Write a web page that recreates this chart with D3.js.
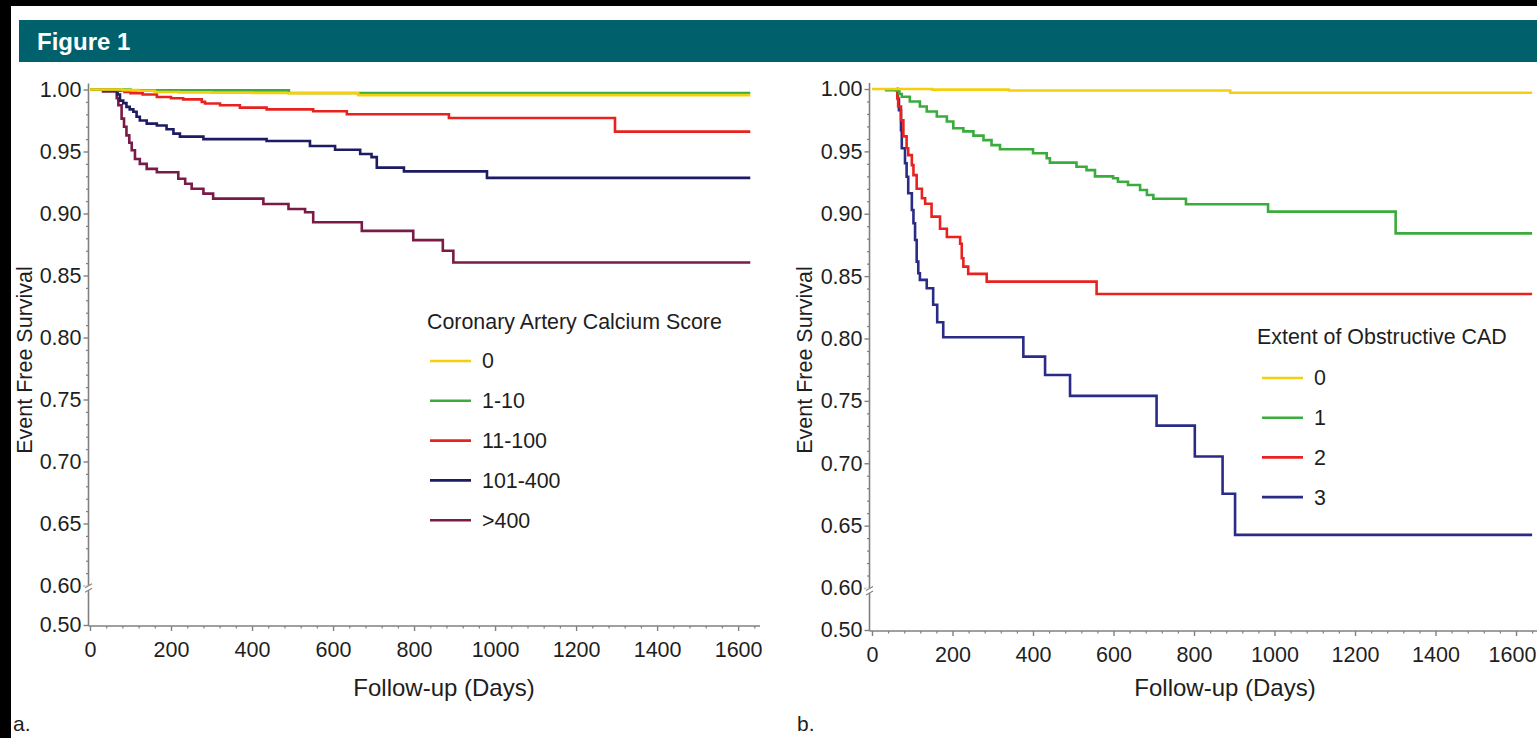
<!DOCTYPE html>
<html><head><meta charset="utf-8">
<script src="https://cdn.jsdelivr.net/npm/d3@7"></script>
<style>
body{margin:0;background:#000;}
svg{display:block;font-family:"Liberation Sans",Arial,Helvetica,sans-serif;}
</style></head>
<body><svg id="c" width="1537" height="738"></svg>
<script>
// ---------------- DATA ----------------
const xTicks = [0, 200, 400, 600, 800, 1000, 1200, 1400, 1600];
const yTicks = [0.50, 0.60, 0.65, 0.70, 0.75, 0.80, 0.85, 0.90, 0.95, 1.00];
const yTickLabels = ["0.50", "0.60", "0.65", "0.70", "0.75", "0.80", "0.85", "0.90", "0.95", "1.00"];

// Panel a: Coronary Artery Calcium Score
const cacLabels = ["0", "1-10", "11-100", "101-400", ">400"];
const cac0 = [[0,1.0],[60,1.0],[80,0.9995],[120,0.999],[160,0.998],[220,0.9977],[300,0.9974],[400,0.9972],[490,0.997],[662,0.9955]];
const cac1_10 = [[0,1.0],[100,0.9993],[491,0.9972]];
const cac11_100 = [[0,1.0],[62,1.0],[70,0.999],[85,0.998],[100,0.997],[130,0.996],[165,0.994],[200,0.993],[230,0.992],[276,0.990],[284,0.9887],[321,0.9873],[370,0.9854],[436,0.984],[551,0.9824],[634,0.980],[886,0.977],[1296,0.966]];
const cac101_400 = [[0,1.0],[62,1.0],[68,0.996],[74,0.991],[82,0.989],[90,0.986],[98,0.984],[107,0.982],[115,0.978],[123,0.975],[140,0.9725],[165,0.971],[189,0.968],[206,0.9644],[222,0.962],[280,0.960],[436,0.9585],[543,0.9544],[605,0.9514],[667,0.948],[695,0.9455],[708,0.937],[775,0.934],[980,0.9287]];
const cacOver400 = [[29,0.9985],[62,0.9985],[66,0.993],[70,0.9873],[78,0.9765],[84,0.970],[90,0.963],[97,0.957],[103,0.951],[111,0.944],[123,0.940],[140,0.936],[165,0.9333],[218,0.928],[235,0.924],[251,0.920],[280,0.916],[304,0.912],[428,0.9077],[490,0.9036],[531,0.901],[551,0.893],[671,0.886],[798,0.8785],[871,0.870],[897,0.8605]];
const cacEndDay = 1630;

// Panel b: Extent of Obstructive CAD
const cadLabels = ["0", "1", "2", "3"];
const cad0 = [[0,1.0],[150,0.9995],[340,0.9988],[890,0.997]];
const cad1 = [[32,0.999],[61,0.9986],[68,0.996],[74,0.9938],[94,0.990],[119,0.986],[136,0.982],[161,0.978],[186,0.974],[202,0.9685],[227,0.966],[252,0.9626],[277,0.959],[297,0.955],[318,0.9517],[400,0.9485],[434,0.9445],[442,0.941],[508,0.9377],[533,0.935],[554,0.930],[599,0.9284],[611,0.9257],[636,0.923],[666,0.919],[683,0.915],[699,0.912],[780,0.9076],[984,0.9017],[1301,0.8843]];
const cad2 = [[61,1.0],[63,0.993],[65,0.986],[72,0.975],[78,0.962],[86,0.9525],[90,0.947],[99,0.939],[103,0.931],[111,0.920],[124,0.9124],[132,0.908],[148,0.8977],[169,0.888],[186,0.8814],[219,0.876],[223,0.8643],[227,0.8576],[239,0.8518],[285,0.8456],[558,0.8357]];
const cad3 = [[61,1.0],[64,0.992],[67,0.983],[72,0.967],[74,0.9525],[82,0.9405],[86,0.9297],[90,0.9164],[99,0.903],[103,0.8924],[107,0.879],[111,0.8616],[115,0.8523],[119,0.847],[136,0.8403],[152,0.827],[162,0.813],[177,0.801],[376,0.7855],[430,0.7708],[492,0.754],[707,0.7302],[802,0.7054],[871,0.6755],[902,0.6426]];
const cadEndDay = 1640;

// ---------------- STYLE ----------------
const colYellow = "#f6cf0c", colGreen = "#3aac3c", colRed = "#e8231f",
      colNavy = "#1d1b62", colMaroon = "#7a1a46", colBlue = "#2a2b86";
const axisCol = "#808080", textCol = "#1e1e1e";

const svg = d3.select("#c");
// white card
svg.append("rect").attr("x", 11).attr("y", 6).attr("width", 1537 - 11).attr("height", 738 - 6).attr("fill", "#fff");
// header
svg.append("rect").attr("x", 19).attr("y", 20).attr("width", 1537 - 19).attr("height", 42).attr("fill", "#00606c");
svg.append("text").attr("x", 37).attr("y", 49.5).attr("fill", "#fff")
  .attr("font-size", 24).attr("font-weight", "bold").text("Figure 1");

function panel(cfg) {
  const g = svg.append("g");
  const x = d3.scaleLinear().domain(cfg.xDomain).range(cfg.xRange);
  const y = d3.scaleLinear().domain([0.5, 0.6, 1.0]).range(cfg.yRange);
  const x0 = cfg.xRange[0], yAxisY = cfg.axisY;

  // minor ticks
  const minorY = d3.range(61, 100).map(v => v / 100).filter(v => Math.round(v * 100) % 5 !== 0);
  g.append("g").attr("transform", `translate(${x0},0)`)
    .call(d3.axisLeft(y).tickValues(minorY).tickSize(2.5).tickFormat(""))
    .call(s => { s.select(".domain").remove(); s.selectAll("line").attr("stroke", axisCol).attr("stroke-width", 1.2); });
  const minorX = d3.range(40, 1680, 40).filter(v => v % 200 !== 0 && x(v) <= cfg.xRange[1]);
  g.append("g").attr("transform", `translate(0,${yAxisY})`)
    .call(d3.axisBottom(x).tickValues(minorX).tickSize(2.5).tickFormat(""))
    .call(s => { s.select(".domain").remove(); s.selectAll("line").attr("stroke", axisCol).attr("stroke-width", 1.2); });

  // major y axis
  g.append("g").attr("transform", `translate(${x0},0)`)
    .call(d3.axisLeft(y).tickValues(yTicks).tickSize(5).tickPadding(2)
      .tickFormat((d, i) => yTickLabels[i]))
    .call(s => {
      s.select(".domain").remove();
      s.selectAll("line").attr("stroke", axisCol).attr("stroke-width", 1.4);
      s.selectAll("text").attr("font-size", 21.5).attr("fill", textCol).attr("font-family", null);
    });
  // major x axis
  g.append("g").attr("transform", `translate(0,${yAxisY})`)
    .call(d3.axisBottom(x).tickValues(xTicks).tickSize(5).tickPadding(11).tickFormat(d3.format("d")))
    .call(s => {
      s.select(".domain").remove();
      s.selectAll("line").attr("stroke", axisCol).attr("stroke-width", 1.4);
      s.selectAll("text").attr("font-size", 21.5).attr("fill", textCol).attr("font-family", null)
        .attr("dx", d => (x(d) + 25 > 1537 ? 1537 - (x(d) + 25) : 0));
    });

  // axis lines
  g.append("line").attr("x1", x0).attr("x2", x0).attr("y1", y(1.0) - 6).attr("y2", yAxisY)
    .attr("stroke", axisCol).attr("stroke-width", 1.6);
  g.append("line").attr("x1", x0).attr("x2", cfg.xRange[1]).attr("y1", yAxisY).attr("y2", yAxisY)
    .attr("stroke", axisCol).attr("stroke-width", 1.6);
  // axis break
  const by = y(0.593);
  g.append("rect").attr("x", x0 - 4).attr("y", by - 3).attr("width", 8).attr("height", 5).attr("fill", "#fff");
  [-2.5, 2].forEach(o => g.append("line").attr("x1", x0 - 3.5).attr("x2", x0 + 3.5)
    .attr("y1", by + o + 2).attr("y2", by + o - 2).attr("stroke", axisCol).attr("stroke-width", 1.1));

  // curves
  const line = d3.line().x(d => x(d[0])).y(d => y(d[1])).curve(d3.curveStepAfter);
  cfg.series.forEach(s => {
    const pts = s.data.concat([[cfg.endDay, s.data[s.data.length - 1][1]]]);
    g.append("path").attr("d", line(pts)).attr("fill", "none")
      .attr("stroke", s.color).attr("stroke-width", 2.6);
  });

  // axis titles
  g.append("text").attr("x", cfg.xTitleX).attr("y", cfg.xTitleY).attr("text-anchor", "middle")
    .attr("font-size", 24).attr("fill", textCol).text("Follow-up (Days)");
  g.append("text").attr("transform", `translate(${cfg.yTitleX},${cfg.yTitleY}) rotate(-90)`)
    .attr("text-anchor", "middle").attr("font-size", 21.5).attr("fill", textCol).text("Event Free Survival");

  // legend
  const lg = g.append("g");
  lg.append("text").attr("x", cfg.legend.x).attr("y", cfg.legend.titleY).attr("dy", "0.35em")
    .attr("font-size", 21.4).attr("fill", textCol).text(cfg.legend.title);
  cfg.legend.items.forEach((it, i) => {
    const yy = cfg.legend.firstY + i * cfg.legend.step;
    lg.append("line").attr("x1", cfg.legend.lineX).attr("x2", cfg.legend.lineX + 41)
      .attr("y1", yy).attr("y2", yy).attr("stroke", it.color).attr("stroke-width", 2.6);
    lg.append("text").attr("x", cfg.legend.textX).attr("y", yy).attr("dy", "0.35em")
      .attr("font-size", 21.4).attr("fill", textCol).text(it.label);
  });

  // panel letter
  g.append("text").attr("x", cfg.letterX).attr("y", 731).attr("font-size", 21)
    .attr("fill", textCol).text(cfg.letter);
}

const cacColors = [colYellow, colGreen, colRed, colNavy, colMaroon];
const cacData = [cac0, cac1_10, cac11_100, cac101_400, cacOver400];
const cadColors = [colYellow, colGreen, colRed, colBlue];
const cadData = [cad0, cad1, cad2, cad3];

panel({
  xDomain: [-3.7, 1654], xRange: [88.5, 760],
  yRange: [625, 585.5, 89.5], axisY: 626,
  endDay: cacEndDay,
  series: [4, 3, 2, 1, 0].map(i => ({ data: cacData[i], color: cacColors[i] })),
  xTitleX: 444, xTitleY: 696, yTitleX: 32, yTitleY: 360,
  legend: { x: 427, titleY: 322, title: "Coronary Artery Calcium Score", lineX: 430, textX: 482,
            firstY: 361, step: 39.8, items: cacLabels.map((l, i) => ({ label: l, color: cacColors[i] })) },
  letterX: 13, letter: "a."
});

panel({
  xDomain: [-6.2, 1672], xRange: [869.5, 1545],
  yRange: [630, 588, 89], axisY: 631,
  endDay: cadEndDay,
  series: [3, 2, 1, 0].map(i => ({ data: cadData[i], color: cadColors[i] })),
  xTitleX: 1225, xTitleY: 696, yTitleX: 812, yTitleY: 360,
  legend: { x: 1257, titleY: 337, title: "Extent of Obstructive CAD", lineX: 1262, textX: 1314,
            firstY: 378, step: 39.7, items: cadLabels.map((l, i) => ({ label: l, color: cadColors[i] })) },
  letterX: 797, letter: "b."
});
</script></body></html>
